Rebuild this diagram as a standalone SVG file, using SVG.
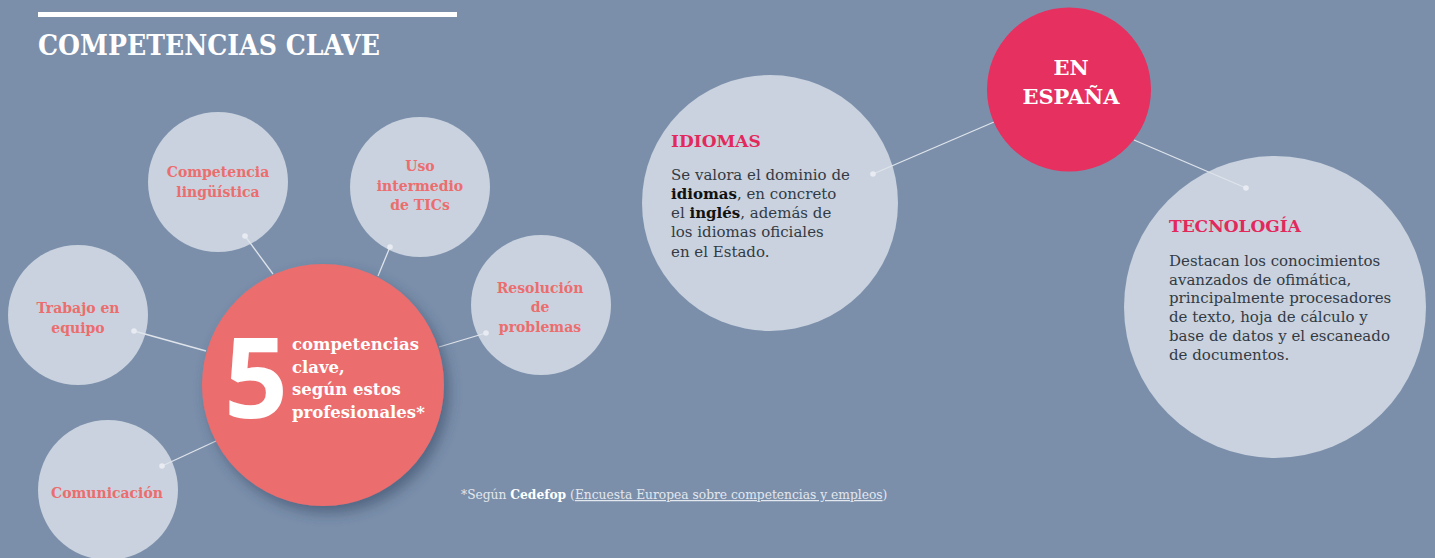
<svg xmlns="http://www.w3.org/2000/svg" width="1435" height="558" viewBox="0 0 1435 558">
<defs>
<style>
.bg{fill:#7b8fab}
.lc{fill:#c9d2de}
.lbl{font-family:"DejaVu Serif","Liberation Serif",serif;font-weight:bold;font-size:14px;fill:#ec6d6e;text-anchor:middle}
.con{stroke:#dfe4eb;stroke-width:1.3;fill:none}
.dot{fill:#e8ecf2}
.head{font-family:"DejaVu Serif","Liberation Serif",serif;font-weight:bold;font-size:17px;fill:#e3285c}
.body{font-family:"DejaVu Serif","Liberation Serif",serif;font-size:15px;fill:#333a44}
.body .b{font-weight:bold;fill:#111}
.ctext{font-family:"DejaVu Serif","Liberation Serif",serif;font-weight:bold;font-size:16.5px;fill:#ffffff}
</style>
<filter id="sh" x="-30%" y="-30%" width="160%" height="160%">
<feDropShadow dx="5" dy="7" stdDeviation="7" flood-color="#33425e" flood-opacity="0.55"/>
</filter>
</defs>
<rect class="bg" x="0" y="0" width="1435" height="558"/>

<g id="title">
<rect x="38" y="12" width="419" height="5" fill="#ffffff"/>
<text x="38" y="55" font-family="DejaVu Serif, Liberation Serif, serif" font-weight="bold" font-size="28" fill="#ffffff" textLength="342" lengthAdjust="spacingAndGlyphs">COMPETENCIAS CLAVE</text>
</g>

<g id="n-competencia">
<circle class="lc" cx="218" cy="182" r="70"/>
<text class="lbl" x="218" y="177">Competencia</text>
<text class="lbl" x="218" y="196.5">lingüística</text>
</g>
<g id="n-uso">
<circle class="lc" cx="420" cy="187" r="70"/>
<text class="lbl" x="420" y="171">Uso</text>
<text class="lbl" x="420" y="190.5">intermedio</text>
<text class="lbl" x="420" y="210">de TICs</text>
</g>
<g id="n-resolucion">
<circle class="lc" cx="541" cy="305" r="70"/>
<text class="lbl" x="540" y="292.5">Resolución</text>
<text class="lbl" x="540" y="312">de</text>
<text class="lbl" x="540" y="331.5">problemas</text>
</g>
<g id="n-trabajo">
<circle class="lc" cx="78" cy="315" r="70"/>
<text class="lbl" x="78" y="313">Trabajo en</text>
<text class="lbl" x="78" y="332.5">equipo</text>
</g>
<g id="n-comunicacion">
<circle class="lc" cx="108" cy="490" r="70"/>
<text class="lbl" x="107" y="498">Comunicación</text>
</g>

<g id="n-idiomas">
<circle class="lc" cx="770" cy="203" r="128"/>
<text class="head" x="671" y="147">IDIOMAS</text>
<text class="body" x="671" y="180">Se valora el dominio de</text>
<text class="body" x="671" y="199"><tspan class="b">idiomas</tspan>, en concreto</text>
<text class="body" x="671" y="218.3">el <tspan class="b">inglés</tspan>, además de</text>
<text class="body" x="671" y="237.3">los idiomas oficiales</text>
<text class="body" x="671" y="256.7">en el Estado.</text>
</g>
<g id="n-tecnologia">
<circle class="lc" cx="1275" cy="307" r="151"/>
<text class="head" x="1169" y="232">TECNOLOGÍA</text>
<text class="body" x="1169" y="265.7">Destacan los conocimientos</text>
<text class="body" x="1169" y="284.5">avanzados de ofimática,</text>
<text class="body" x="1169" y="303.3">principalmente procesadores</text>
<text class="body" x="1169" y="322">de texto, hoja de cálculo y</text>
<text class="body" x="1169" y="341">base de datos y el escaneado</text>
<text class="body" x="1169" y="360">de documentos.</text>
</g>

<g id="connectors">
<line class="con" x1="245" y1="236" x2="273" y2="274"/>
<line class="con" x1="390" y1="247" x2="378" y2="276"/>
<line class="con" x1="134" y1="331" x2="206" y2="351"/>
<line class="con" x1="486" y1="333" x2="439" y2="347"/>
<line class="con" x1="162" y1="466" x2="216" y2="441"/>
<line class="con" x1="873" y1="174" x2="994" y2="122"/>
<line class="con" x1="1246" y1="188" x2="1134" y2="140"/>
<circle class="dot" cx="245" cy="236" r="2.8"/>
<circle class="dot" cx="390" cy="247" r="2.8"/>
<circle class="dot" cx="134" cy="331" r="2.8"/>
<circle class="dot" cx="486" cy="333" r="2.8"/>
<circle class="dot" cx="162" cy="466" r="2.8"/>
<circle class="dot" cx="873" cy="174" r="2.8"/>
<circle class="dot" cx="1246" cy="188" r="2.8"/>
</g>

<g id="n-centro">
<circle cx="323" cy="385" r="121" fill="#ec6d6e" filter="url(#sh)"/>
<text x="224" y="418" font-family="Open Sans, Noto Sans, sans-serif" font-weight="bold" font-size="112" fill="#ffffff">5</text>
<text class="ctext" x="292" y="350">competencias</text>
<text class="ctext" x="292" y="372.5">clave,</text>
<text class="ctext" x="292" y="395">según estos</text>
<text class="ctext" x="292" y="417.5">profesionales*</text>
</g>

<g id="n-espana">
<circle cx="1069" cy="89.5" r="82" fill="#e6305f"/>
<text x="1071" y="75" font-family="DejaVu Serif, Liberation Serif, serif" font-weight="bold" font-size="21" fill="#ffffff" text-anchor="middle">EN</text>
<text x="1071" y="104" font-family="DejaVu Serif, Liberation Serif, serif" font-weight="bold" font-size="21" fill="#ffffff" text-anchor="middle">ESPAÑA</text>
</g>

<g id="footnote">
<text x="461" y="499" font-family="DejaVu Serif, Liberation Serif, serif" font-size="12.25" fill="#e3e7ee">*Según <tspan font-weight="bold" fill="#ffffff">Cedefop</tspan> (<tspan text-decoration="underline">Encuesta Europea sobre competencias y empleos</tspan>)</text>
</g>
</svg>
